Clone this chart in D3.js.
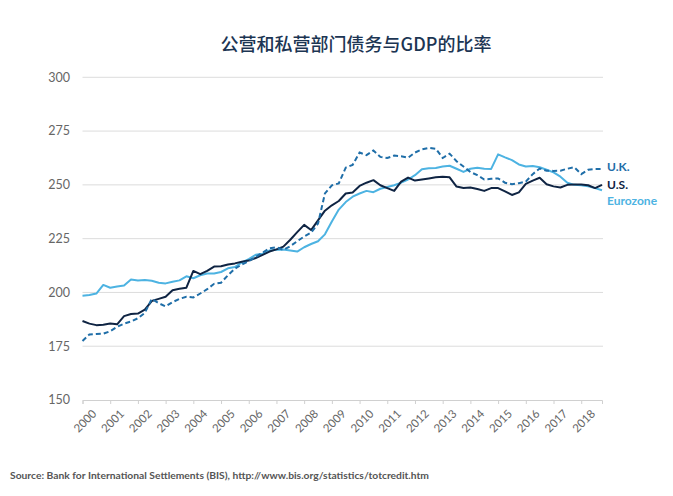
<!DOCTYPE html>
<html>
<head>
<meta charset="utf-8">
<script src="https://cdn.jsdelivr.net/npm/d3@7"></script>
<style>
  html, body { margin: 0; padding: 0; background: #fff; }
  svg { display: block; }
</style>
</head>
<body>
<svg id="chart" width="673" height="496"></svg>
<script>
const title = "公营和私营部门债务与GDP的比率";
const source = "Source: Bank for International Settlements (BIS), http://www.bis.org/statistics/totcredit.htm";
const yearTicks = [2000,2001,2002,2003,2004,2005,2006,2007,2008,2009,2010,2011,2012,2013,2014,2015,2016,2017,2018];
const yTicks = [150,175,200,225,250,275,300];
const startYear = 2000; // quarterly data from 2000 Q1

const us = [186.7,185.5,184.8,185,185.6,185.2,189,190,190.2,192,196,197,198,201,201.7,202.2,
  210,208.5,210,212,212.2,213,213.5,214.3,214.8,216,217.5,219,220,221.3,224.5,228,
  231.4,229,233.5,238,240.5,242.5,246,246.5,249.5,251,252.2,249.8,248.5,247.2,251.5,253.4,
  252,252.5,253,253.5,253.8,253.5,249.2,248.5,248.8,248.1,247.2,248.5,248.5,247,
  245.3,246.5,250.5,252,253.3,250.3,249.3,248.8,250,250.2,250.2,249.8,248.5,250];
const uk = [177.4,180.5,180.7,180.8,182,184,185.5,186.5,188,190.5,197,195,193.5,195.5,197,198,
  197.7,199.5,201.5,204,204.5,208,211,213,214.5,216.5,218.5,220.5,221,219.8,221.5,223.8,
  226,227.8,232,246,249.8,250.7,258,259.3,265,263.8,266,263,262.5,263.6,263.3,262.6,
  265,266.5,267.2,266.8,262.5,264.5,261,258.5,256,254.5,252.5,252.8,253,251,
  250.3,250.8,251.5,255,257.6,256.6,256.5,256.6,257.5,258.2,255,257,257.4,257.4];
const eurozone = [198.5,198.8,199.5,203.5,202.2,202.8,203.2,206,205.6,205.8,205.4,204.5,204.2,205,205.6,207.5,
  206.6,208,208.8,208.8,209.5,211.2,211.8,214,215.5,217.5,218,219.5,219.8,220,219.5,219,
  221,222.5,223.8,227,233,238.5,242,244.5,246,247.2,246.6,248.2,249,249.8,251,252.5,
  254.5,257.3,257.7,257.8,258.5,258.9,257.5,256,257.5,258,257.5,257.4,264.2,262.8,
  261.5,259.5,258.5,258.8,258.2,257,255.8,253.8,251,250,249.8,249.3,248.5,247.5];
const seriesNames = ["U.K.", "U.S.", "Eurozone"];

const svg = d3.select("#chart");
const margin = {left: 82.5, right: 71, top: 77.3, bottom: 96};
const W = 673, H = 496;

const toT = i => startYear + i / 4;
const x = d3.scaleLinear().domain([startYear, toT(us.length - 1)]).range([margin.left, W - margin.right]);
const y = d3.scaleLinear().domain([150, 300]).range([H - margin.bottom, margin.top]);

// title
svg.append("text").attr("x", 356).attr("y", 51).attr("text-anchor", "middle")
  .attr("font-family", "'Noto Sans CJK SC', sans-serif").attr("font-size", 18).attr("font-weight", 500)
  .attr("fill", "#1c3553").text(title);

// gridlines
svg.append("g").selectAll("line").data(yTicks.filter(d => d > 150)).join("line")
  .attr("x1", margin.left).attr("x2", W - margin.right + 1)
  .attr("y1", d => y(d)).attr("y2", d => y(d))
  .attr("stroke", "#dcdcdc").attr("stroke-width", 1);

// y labels
svg.append("g").selectAll("text").data(yTicks).join("text")
  .attr("x", 70).attr("y", d => y(d)).attr("dy", "0.35em").attr("text-anchor", "end")
  .attr("font-family", "Lato, 'Open Sans', sans-serif").attr("font-size", 12.5).attr("fill", "#666")
  .text(d => d);

// x axis
const xAxis = d3.axisBottom(x).tickValues(yearTicks).tickSize(4).tickFormat("");
const gx = svg.append("g").attr("transform", `translate(0,${y(150)})`).call(xAxis);
gx.select(".domain").attr("stroke", "#d0d0d0");
gx.selectAll(".tick line").attr("stroke", "#d0d0d0");
svg.append("g").selectAll("text").data(yearTicks).join("text")
  .attr("transform", d => `translate(${x(d) + 2.5},421) rotate(-45)`)
  .attr("text-anchor", "middle").attr("dy", "0.35em")
  .attr("font-family", "Lato, 'Open Sans', sans-serif").attr("font-size", 11.5).attr("fill", "#666")
  .text(d => d);

const line = d3.line().x((d, i) => x(toT(i))).y(d => y(d));
const colors = {"U.K.": "#1f6ea8", "U.S.": "#0f2443", "Eurozone": "#4db3e2"};

svg.append("path").datum(eurozone).attr("d", line).attr("fill", "none")
  .attr("stroke", colors["Eurozone"]).attr("stroke-width", 2).attr("stroke-linejoin", "round");
svg.append("path").datum(us).attr("d", line).attr("fill", "none")
  .attr("stroke", colors["U.S."]).attr("stroke-width", 2).attr("stroke-linejoin", "round");
svg.append("path").datum(uk).attr("d", line).attr("fill", "none")
  .attr("stroke", colors["U.K."]).attr("stroke-width", 2).attr("stroke-dasharray", "5,3");

// series labels
const labelY = {"U.K.": 167, "U.S.": 185, "Eurozone": 201};
svg.append("g").selectAll("text").data(seriesNames).join("text")
  .attr("x", 607).attr("y", d => labelY[d]).attr("dy", "0.35em")
  .attr("font-family", "Lato, 'Open Sans', sans-serif").attr("font-size", 12).attr("font-weight", 700)
  .attr("fill", d => colors[d]).text(d => d);

// source
svg.append("text").attr("x", 10).attr("y", 479)
  .attr("font-family", "Lato, 'Open Sans', sans-serif").attr("font-size", 10.3).attr("font-weight", 700)
  .attr("fill", "#555").text(source);
</script>
</body>
</html>
